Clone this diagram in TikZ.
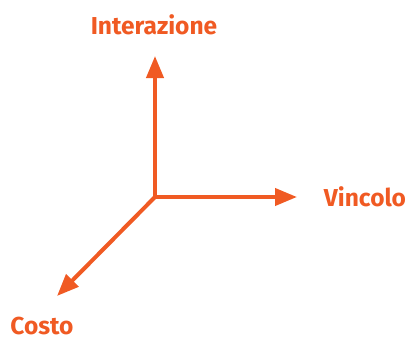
\documentclass[tikz,border=0pt]{standalone}
\usepackage{fontspec}
\setmainfont{Fira Sans}
\usepackage{tikz}
\usetikzlibrary{arrows.meta}
\definecolor{Axis}{RGB}{240, 90, 35}

\tikzset{
    axis/.style={line width=4pt, Axis, -{Triangle[length=22pt,width=17pt]}},
    axislabel/.style={text=Axis, font=\fontsize{24.5}{28}\selectfont\bfseries, inner sep=0pt}
}

\begin{document}
\begin{tikzpicture}[x=1pt, y=-1pt]
    %% Background
    \useasboundingbox (0,0) rectangle (408,340);

    %% Origin and tips
    \coordinate (O) at (155,197);
    \coordinate (up) at (155,56);
    \coordinate (right) at (297,197);
    \coordinate (diag) at (57,296);

    %% Axes
    \draw[axis] (O) -- (up);
    \draw[axis] (O) -- (right);
    \draw[axis] (O) -- (diag);

    %% Labels
    \node[axislabel] (interazione) at (154,25) {Interazione};
    \node[axislabel] (vincolo) at (365,197) {Vincolo};
    \node[axislabel] (costo) at (42,326) {Costo};
\end{tikzpicture}
\end{document}
